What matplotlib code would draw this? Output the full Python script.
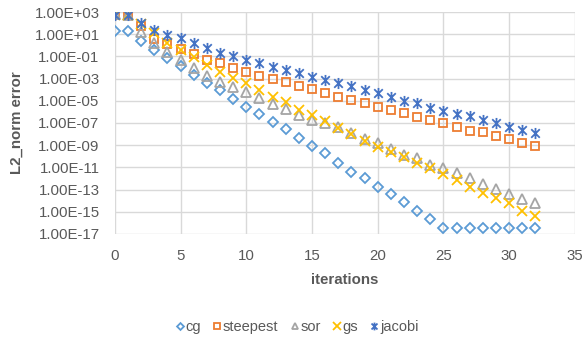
import numpy as np
import matplotlib
matplotlib.use("Agg")
import matplotlib.pyplot as plt
from matplotlib.path import Path
from matplotlib.ticker import FixedLocator, FuncFormatter

# log10 of the L2 norm error per iteration
iterations = list(range(33))
cg_log = [1.32, 1.32, 0.42, -0.42, -1.17, -1.86, -2.68, -3.42, -4.05, -4.8,
          -5.55, -6.2, -6.9, -7.5, -8.4, -9.1, -9.7, -10.6, -11.4, -12.0,
          -12.75, -13.4, -14.1, -14.9, -15.65, -16.45, -16.45, -16.45, -16.45,
          -16.45, -16.45, -16.45, -16.45]
steepest_log = [2.73, 2.73, 1.7, 0.55, 0.12, -0.36, -0.81, -1.32, -1.62, -2.05,
                -2.4, -2.75, -3.04, -3.35, -3.65, -3.9, -4.3, -4.65, -4.9, -5.2,
                -5.55, -5.8, -6.1, -6.45, -6.7, -7.0, -7.35, -7.7, -7.8, -8.2,
                -8.45, -8.8, -9.1]
sor_log = [2.8, 2.73, 1.23, 0.18, -0.57, -1.32, -2.07, -2.77, -3.3, -3.8,
           -4.25, -4.75, -5.25, -5.7, -6.3, -6.7, -7.0, -7.4, -7.9, -8.45,
           -8.8, -9.35, -9.9, -10.2, -10.8, -11.05, -11.5, -11.95, -12.5,
           -12.95, -13.4, -13.85, -14.2]
gs_log = [2.73, 2.73, 1.92, 1.08, 0.23, -0.42, -1.02, -1.77, -2.38, -2.97,
          -3.42, -4.03, -4.63, -5.1, -5.8, -6.3, -6.85, -7.45, -8.0, -8.6,
          -9.15, -9.6, -10.1, -10.6, -11.05, -11.6, -12.1, -12.75, -13.3,
          -13.75, -14.2, -14.9, -15.4]
jacobi_log = [2.73, 2.73, 2.0, 1.38, 0.93, 0.63, 0.18, -0.27, -0.7, -1.0,
              -1.3, -1.6, -1.95, -2.2, -2.5, -2.85, -3.1, -3.4, -3.65, -4.0,
              -4.3, -4.7, -5.0, -5.2, -5.65, -5.95, -6.2, -6.35, -6.7, -7.0,
              -7.35, -7.6, -7.9]

y_ticks = [10.0 ** e for e in range(-17, 4, 2)]

# Excel style "star" marker: an x with a vertical bar through it
star = Path([(-1, -1), (1, 1), (-1, 1), (1, -1), (0, -1.3), (0, 1.3)],
            [Path.MOVETO, Path.LINETO, Path.MOVETO, Path.LINETO,
             Path.MOVETO, Path.LINETO])

series = [
    ("cg", cg_log, "D", "#5B9BD5", 5.0),
    ("steepest", steepest_log, "s", "#ED7D31", 6.0),
    ("sor", sor_log, "^", "#A5A5A5", 7.0),
    ("gs", gs_log, "x", "#FFC000", 7.5),
    ("jacobi", jacobi_log, star, "#4472C4", 8.0),
]

plt.rcParams['font.family'] = ['Liberation Sans', 'DejaVu Sans']
grey = "#595959"

fig = plt.figure(figsize=(5.83, 3.43), dpi=100)
ax = fig.add_axes([0.197, 0.318, 0.789, 0.647])

for name, vals, marker, color, ms in series:
    y = 10.0 ** np.array(vals)
    ax.plot(iterations, y, linestyle="none", marker=marker, markersize=ms,
            markerfacecolor="none", markeredgecolor=color, markeredgewidth=1.3,
            label=name, zorder=3)

ax.set_yscale("log")
ax.set_ylim(1e-17, 1e3)
ax.set_xlim(0, 35)
ax.set_xticks(range(0, 36, 5))
ax.yaxis.set_major_locator(FixedLocator(y_ticks))
ax.yaxis.set_minor_locator(FixedLocator([]))
ax.yaxis.set_major_formatter(FuncFormatter(lambda v, p: "%.2E" % v))

for s in ax.spines.values():
    s.set_visible(False)
ax.grid(True, color="#D9D9D9", linewidth=1.0, zorder=0)
ax.set_axisbelow(True)
ax.tick_params(length=0, labelsize=10.8, labelcolor=grey)
ax.tick_params(axis="x", pad=11)
ax.tick_params(axis="y", pad=11)

ax.set_xlabel("iterations", fontsize=10.8, fontweight="bold", color=grey, labelpad=7)
ax.set_ylabel("L2_norm error", fontsize=10.8, fontweight="bold", color=grey, labelpad=8)

fig.legend(loc="center", bbox_to_anchor=(0.51, 0.047), ncol=5, frameon=False,
           fontsize=10.5, labelcolor=grey, handlelength=0.5,
           handletextpad=0.15, columnspacing=0.85, markerscale=0.7)

fig.savefig("out.png", dpi=100)
